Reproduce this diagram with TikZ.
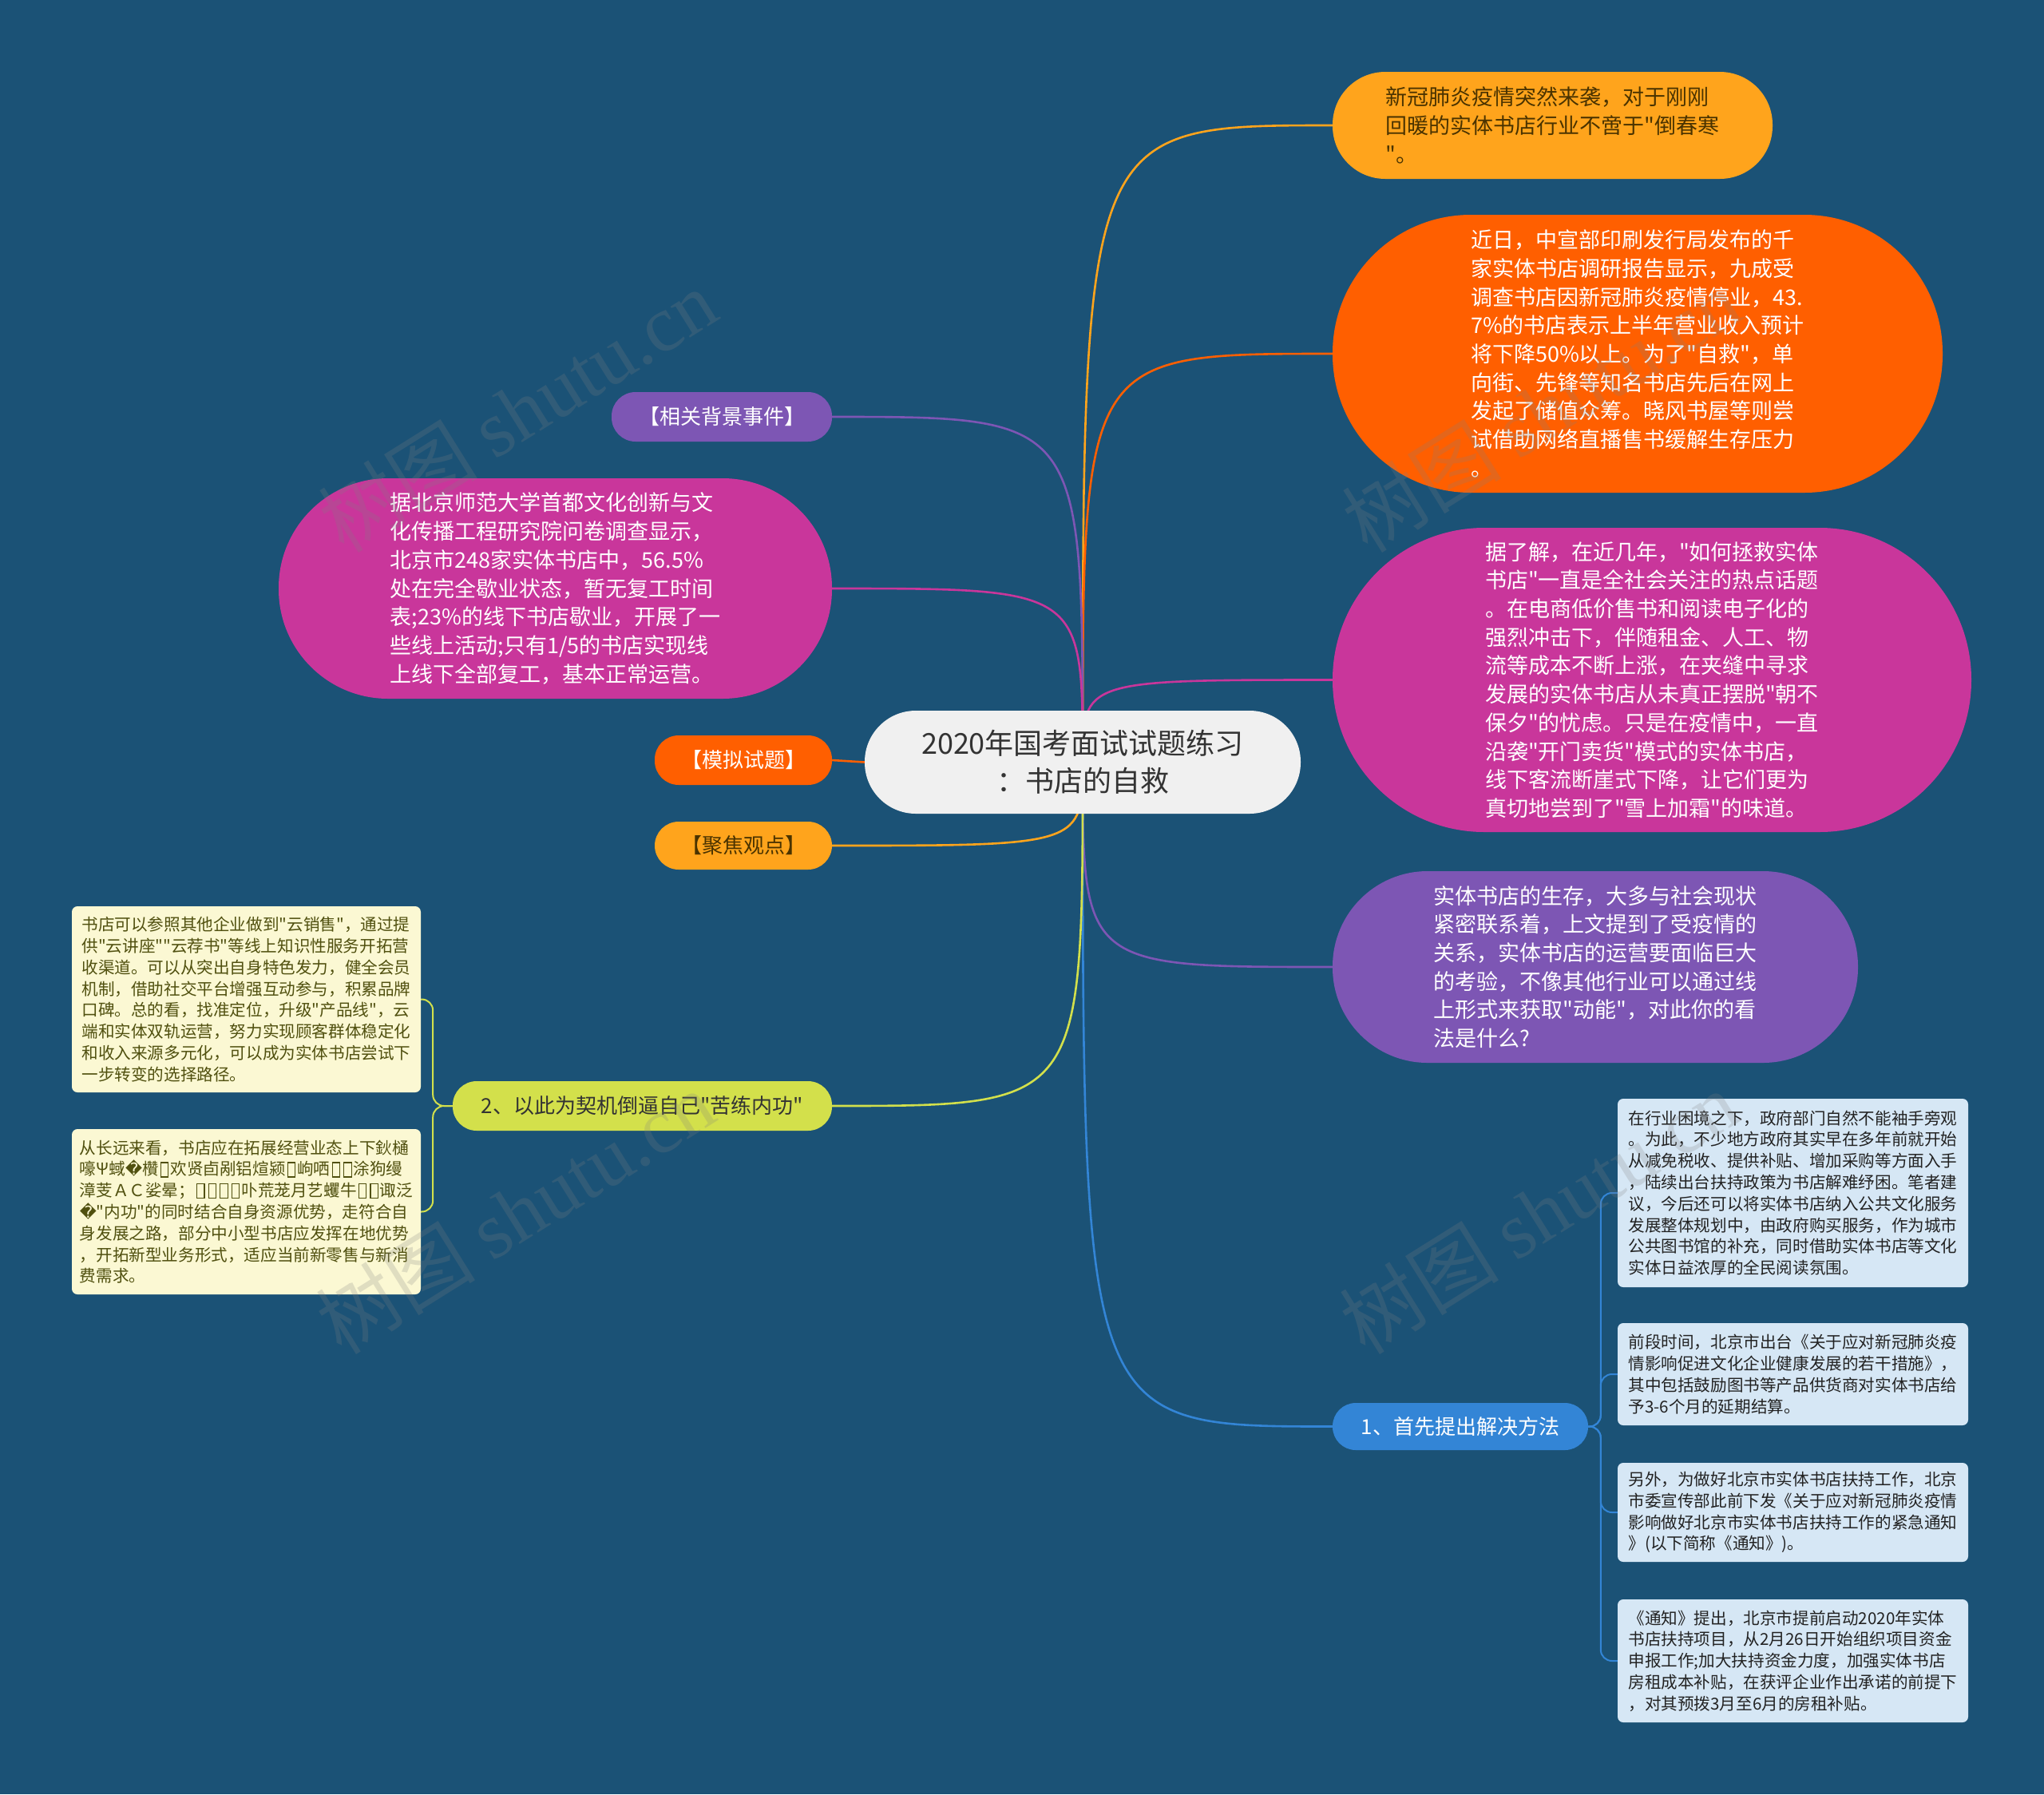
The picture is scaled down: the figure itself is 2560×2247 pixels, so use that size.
\documentclass[tikz,border=0pt]{standalone}
\usepackage{fontspec}
\setmainfont{Noto Sans CJK SC}[Ligatures=TeXOff]
\newfontfamily\dejavu{DejaVu Sans}
\newfontfamily\wmlatin{Liberation Serif}
\usetikzlibrary{backgrounds}
\newcommand\nbx{\kern0.1em\raisebox{-0.08em}{\setlength\fboxsep{0pt}\setlength\fboxrule{0.055em}\fbox{\rule{0pt}{0.82em}\kern0.4em}}\kern0.1em}
\definecolor{bg}{HTML}{1B5276}
\definecolor{cCenter}{HTML}{F0F0F0}
\definecolor{cDark}{HTML}{333333}
\definecolor{cBrown}{HTML}{4A3300}
\definecolor{cOrange}{HTML}{FFA41C}
\definecolor{cRed}{HTML}{FF5F00}
\definecolor{cMag}{HTML}{C9369B}
\definecolor{cPurp}{HTML}{7D56B4}
\definecolor{cBlue}{HTML}{3385D6}
\definecolor{cYG}{HTML}{D3E04B}
\definecolor{cLY}{HTML}{FBF8D3}
\definecolor{cLB}{HTML}{D6E7F5}
\definecolor{cOlive}{HTML}{50500F}
\definecolor{cBoxText}{HTML}{222222}
\begin{document}
\begin{tikzpicture}[x=1pt,y=-1pt,
  every node/.style={inner sep=0pt},
  conn/.style={line width=2.6pt},
  brk/.style={line width=2pt, rounded corners=14pt},
  big/.style={font=\fontsize{27}{35.7}\selectfont, align=left, text=white},
  pilltext/.style={font=\fontsize{26}{32}\selectfont, rounded corners=30pt, minimum height=62pt},
  smallbox/.style={font=\fontsize{20.6}{26.8}\selectfont, align=left, rounded corners=7pt, minimum width=439pt},
  wm/.style={font=\fontsize{100}{100}\selectfont, text=gray, opacity=0.22}
]
\useasboundingbox (0,0) rectangle (2560,2247);

% central topic
\node[fill=cCenter, rounded corners=64pt, minimum width=546pt, minimum height=129pt,
      font=\fontsize{36}{47}\selectfont, text=cDark, align=center] (c) at (1356,954.5)
  {2020年国考面试试题练习\\：书店的自救};

% right side
\node[big, fill=cOrange, text=cBrown, minimum width=551pt, minimum height=134pt, rounded corners=66pt] (n1) at (1944.5,157)
  {新冠肺炎疫情突然来袭，对于刚刚\\%
   回暖的实体书店行业不啻于"倒春寒\\%
   "。};

\node[big, fill=cRed, minimum width=764pt, minimum height=348pt, rounded corners=173pt] (n2) at (2051,443)
  {近日，中宣部印刷发行局发布的千\\%
   家实体书店调研报告显示，九成受\\%
   调查书店因新冠肺炎疫情停业，43.\\%
   7\%的书店表示上半年营业收入预计\\%
   将下降50\%以上。为了"自救"，单\\%
   向街、先锋等知名书店先后在网上\\%
   发起了储值众筹。晓风书屋等则尝\\%
   试借助网络直播售书缓解生存压力\\%
   。};

\node[big, fill=cMag, minimum width=800pt, minimum height=381pt, rounded corners=190pt] (n3) at (2069,851.5)
  {据了解，在近几年，"如何拯救实体\\%
   书店"一直是全社会关注的热点话题\\%
   。在电商低价售书和阅读电子化的\\%
   强烈冲击下，伴随租金、人工、物\\%
   流等成本不断上涨，在夹缝中寻求\\%
   发展的实体书店从未真正摆脱"朝不\\%
   保夕"的忧虑。只是在疫情中，一直\\%
   沿袭"开门卖货"模式的实体书店，\\%
   线下客流断崖式下降，让它们更为\\%
   真切地尝到了"雪上加霜"的味道。};

\node[big, fill=cPurp, minimum width=658pt, minimum height=240pt, rounded corners=119pt] (n4) at (1998,1211)
  {实体书店的生存，大多与社会现状\\%
   紧密联系着，上文提到了受疫情的\\%
   关系，实体书店的运营要面临巨大\\%
   的考验，不像其他行业可以通过线\\%
   上形式来获取"动能"，对此你的看\\%
   法是什么?};

\node[pilltext, fill=cBlue, text=white, minimum width=320pt, minimum height=59pt, rounded corners=29pt] (n5) at (1829,1786.5)
  {1、首先提出解决方法};

\node[smallbox, fill=cLB, text=cBoxText, minimum height=236pt] (rb1) at (2245.5,1494)
  {在行业困境之下，政府部门自然不能袖手旁观\\%
   。为此，不少地方政府其实早在多年前就开始\\%
   从减免税收、提供补贴、增加采购等方面入手\\%
   ，陆续出台扶持政策为书店解难纾困。笔者建\\%
   议，今后还可以将实体书店纳入公共文化服务\\%
   发展整体规划中，由政府购买服务，作为城市\\%
   公共图书馆的补充，同时借助实体书店等文化\\%
   实体日益浓厚的全民阅读氛围。};

\node[smallbox, fill=cLB, text=cBoxText, minimum height=128pt] (rb2) at (2245.5,1721)
  {前段时间，北京市出台《关于应对新冠肺炎疫\\%
   情影响促进文化企业健康发展的若干措施》，\\%
   其中包括鼓励图书等产品供货商对实体书店给\\%
   予3-6个月的延期结算。};

\node[smallbox, fill=cLB, text=cBoxText, minimum height=124pt] (rb3) at (2245.5,1894)
  {另外，为做好北京市实体书店扶持工作，北京\\%
   市委宣传部此前下发《关于应对新冠肺炎疫情\\%
   影响做好北京市实体书店扶持工作的紧急通知\\%
   》(以下简称《通知》)。};

\node[smallbox, fill=cLB, text=cBoxText, minimum height=154pt] (rb4) at (2245.5,2080)
  {《通知》提出，北京市提前启动2020年实体\\%
   书店扶持项目，从2月26日开始组织项目资金\\%
   申报工作;加大扶持资金力度，加强实体书店\\%
   房租成本补贴，在获评企业作出承诺的前提下\\%
   ，对其预拨3月至6月的房租补贴。};

% left side
\node[pilltext, fill=cPurp, text=white, minimum width=276pt] (lp) at (904,522)
  {【相关背景事件】};

\node[big, fill=cMag, minimum width=693pt, minimum height=276pt, rounded corners=137pt] (lm) at (695.5,737)
  {据北京师范大学首都文化创新与文\\%
   化传播工程研究院问卷调查显示，\\%
   北京市248家实体书店中，56.5\%\\%
   处在完全歇业状态，暂无复工时间\\%
   表;23\%的线下书店歇业，开展了一\\%
   些线上活动;只有1/5的书店实现线\\%
   上线下全部复工，基本正常运营。};

\node[pilltext, fill=cRed, text=white, minimum width=222pt] (lr) at (931,952)
  {【模拟试题】};

\node[pilltext, fill=cOrange, text=cBrown, minimum width=222pt, minimum height=60pt] (lo) at (931,1059)
  {【聚焦观点】};

\node[pilltext, fill=cYG, text=cDark, minimum width=475pt] (ly) at (804.5,1385)
  {2、以此为契机倒逼自己"苦练内功"};

\node[smallbox, fill=cLY, text=cOlive, minimum width=437pt, minimum height=233pt] (lb1) at (308.5,1251.5)
  {书店可以参照其他企业做到"云销售"，通过提\\%
   供"云讲座""云荐书"等线上知识性服务开拓营\\%
   收渠道。可以从突出自身特色发力，健全会员\\%
   机制，借助社交平台增强互动参与，积累品牌\\%
   口碑。总的看，找准定位，升级"产品线"，云\\%
   端和实体双轨运营，努力实现顾客群体稳定化\\%
   和收入来源多元化，可以成为实体书店尝试下\\%
   一步转变的选择路径。};

\node[smallbox, fill=cLY, text=cOlive, minimum width=437pt, minimum height=207pt] (lb2) at (308.5,1517.5)
  {从长远来看，书店应在拓展经营业态上下鈥樋\\%
   嚎Ψ蜮{\dejavu �}欑\nbx 欢贤卣剐铝煊颍\nbx 岣哂\nbx\nbx 涂狗缦\\%
   漳芰ＡＣ娑晕；\nbx\nbx\nbx\nbx 卟荒茏月艺蠼牛\nbx\nbx 诹泛\\%
   {\dejavu �}"内功"的同时结合自身资源优势，走符合自\\%
   身发展之路，部分中小型书店应发挥在地优势\\%
   ，开拓新型业务形式，适应当前新零售与新消\\%
   费需求。};

% connectors and background
\begin{scope}[on background layer]
\fill[bg] (0,0) rectangle (2560,2247);
\draw[conn, cOrange] (c.center) .. controls (c.center |- n1.west) .. (n1.west);
\draw[conn, cRed] (c.center) .. controls (c.center |- n2.west) .. (n2.west);
\draw[conn, cMag] (c.center) .. controls (c.center |- n3.west) .. (n3.west);
\draw[conn, cPurp] (c.center) .. controls (c.center |- n4.west) .. (n4.west);
\draw[conn, cBlue] (c.center) .. controls (c.center |- n5.west) .. (n5.west);
\draw[conn, cPurp] (c.center) .. controls (c.center |- lp.east) .. (lp.east);
\draw[conn, cMag] (c.center) .. controls (c.center |- lm.east) .. (lm.east);
\draw[conn, cRed] (lr.east) -- (c.west);
\draw[conn, cOrange] (c.center) .. controls (c.center |- lo.east) .. (lo.east);
\draw[conn, cYG] (c.center) .. controls (c.center |- ly.east) .. (ly.east);
\draw[brk, cBlue] (n5.east) -| ([xshift=-21pt]rb1.west) -- (rb1.west);
\draw[brk, cBlue] (n5.east) -| ([xshift=-21pt]rb2.west) -- (rb2.west);
\draw[brk, cBlue] (n5.east) -| ([xshift=-21pt]rb3.west) -- (rb3.west);
\draw[brk, cBlue] (n5.east) -| ([xshift=-21pt]rb4.west) -- (rb4.west);
\draw[brk, cYG] (ly.west) -| ([xshift=15pt]lb1.east) -- (lb1.east);
\draw[brk, cYG] (ly.west) -| ([xshift=15pt]lb2.east) -- (lb2.east);
\end{scope}

% watermarks
\node[wm, rotate=32] (w1) at (648,514) {树图 {\wmlatin shutu.cn}};
\node[wm, rotate=32] (w2) at (1930,514) {树图 {\wmlatin shutu.cn}};
\node[wm, rotate=32] (w3) at (645,1518) {树图 {\wmlatin shutu.cn}};
\node[wm, rotate=32] (w4) at (1927,1518) {树图 {\wmlatin shutu.cn}};
\end{tikzpicture}
\end{document}
